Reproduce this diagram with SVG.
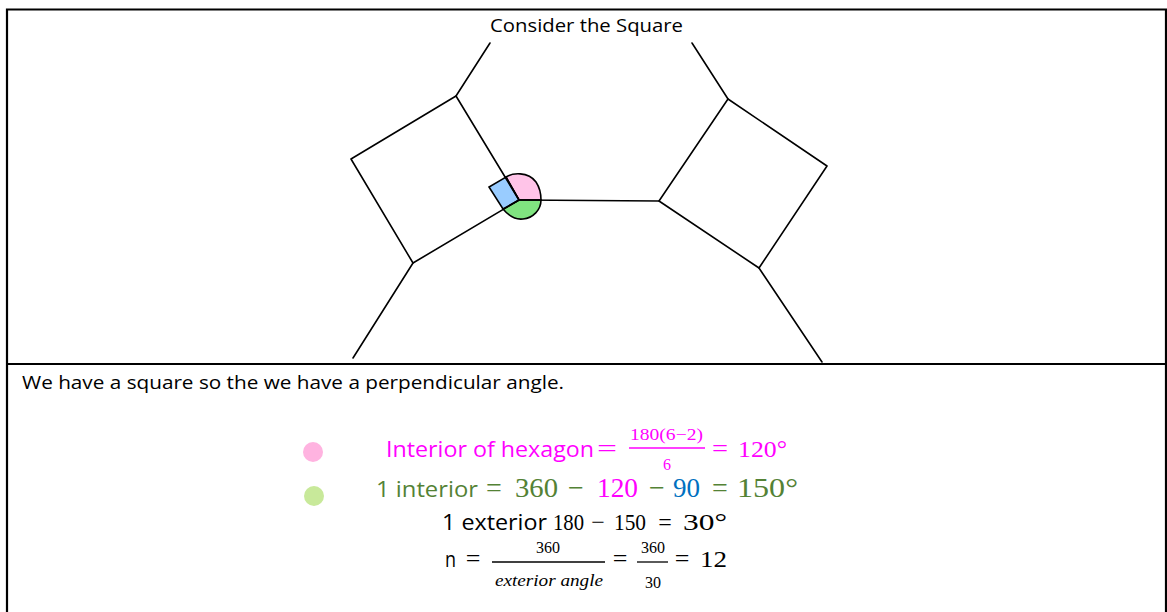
<svg xmlns="http://www.w3.org/2000/svg" width="1167" height="612" viewBox="0 0 1167 612">
<style>
.edge{stroke:#000;stroke-width:1.6;fill:none;stroke-linecap:round;stroke-linejoin:round}
.frame{stroke:#000;stroke-width:2.2;fill:none}
.sans{font-family:"Open Sans","Liberation Sans",Arial,sans-serif}
.serif{font-family:"Liberation Serif","Times New Roman",serif}
.mag{fill:#FF00FF}
.grn{fill:#548235}
.blu{fill:#0070C0}
.blk{fill:#000}
.mid{text-anchor:middle}
</style>
<rect width="1167" height="612" fill="#fff"/>
<g id="frame">
<path class="frame" d="M7,620 V9.5 H1166 V620"/>
<line class="frame" x1="7" y1="364" x2="1166" y2="364"/>
</g>
<text id="title" class="sans blk" x="490" y="32" font-size="19" textLength="193" lengthAdjust="spacingAndGlyphs">Consider the Square</text>
<g id="angle-marks">
<path d="M519,200 L506,177 C512,173 528,171 536,182 C540,188 541,194 541,200 Z" fill="#FFC4E8" stroke="#000" stroke-width="1.6"/>
<path d="M519,200 L503,209 C508,215 515,220 523,219 C533,218 541,210 541,200 Z" fill="#80E480" stroke="#000" stroke-width="1.6"/>
<path d="M519,200 L506,177 L489,187 L503,209 Z" fill="#99CCFF" stroke="#000" stroke-width="1.6"/>
</g>
<g id="left-square">
<path class="edge" d="M456,96 L351,159 L413,263 L519,200 Z"/>
</g>
<g id="right-square">
<path class="edge" d="M728,99 L827,166 L759,268 L659,201 Z"/>
</g>
<g id="connectors">
<line class="edge" x1="490" y1="43" x2="456" y2="96"/>
<line class="edge" x1="413" y1="263" x2="353" y2="358"/>
<line class="edge" x1="519" y1="200" x2="659" y2="201"/>
<line class="edge" x1="692" y1="43" x2="728" y2="99"/>
<line class="edge" x1="759" y1="268" x2="822" y2="362"/>
</g>
<text id="statement" class="sans blk" x="22" y="389" font-size="19" textLength="542" lengthAdjust="spacingAndGlyphs">We have a square so the we have a perpendicular angle.</text>
<g id="bullets">
<circle cx="313" cy="452" r="10" fill="#FFB3E0"/>
<circle cx="314" cy="496" r="10" fill="#C8E99A"/>
</g>
<g id="line1">
<text class="sans mag" x="386" y="457" font-size="22" textLength="208" lengthAdjust="spacingAndGlyphs">Interior of hexagon</text>
<text class="serif mag" x="597" y="457" font-size="26" textLength="20" lengthAdjust="spacingAndGlyphs">=</text>
<text class="serif mag" x="630" y="440" font-size="16" textLength="73" lengthAdjust="spacingAndGlyphs">180(6−2)</text>
<line x1="629" y1="448" x2="705" y2="448" stroke="#FF00FF" stroke-width="1.4"/>
<text class="serif mag mid" x="667" y="470" font-size="16">6</text>
<text class="serif mag" x="712" y="457" font-size="26" textLength="16" lengthAdjust="spacingAndGlyphs">=</text>
<text class="serif mag" x="738" y="457" font-size="24" textLength="49" lengthAdjust="spacingAndGlyphs">120°</text>
</g>
<g id="line2">
<text class="sans grn" x="376" y="497" font-size="22" textLength="102" lengthAdjust="spacingAndGlyphs">1 interior</text>
<text class="serif grn mid" x="494" y="497" font-size="28">=</text>
<text class="serif grn" x="515" y="497" font-size="27" textLength="43" lengthAdjust="spacingAndGlyphs">360</text>
<text class="serif grn mid" x="576" y="497" font-size="28">−</text>
<text class="serif mag" x="597" y="497" font-size="27" textLength="41" lengthAdjust="spacingAndGlyphs">120</text>
<text class="serif grn mid" x="657" y="497" font-size="28">−</text>
<text class="serif blu" x="673" y="497" font-size="27" textLength="27" lengthAdjust="spacingAndGlyphs">90</text>
<text class="serif grn mid" x="720" y="497" font-size="28">=</text>
<text class="serif grn" x="737" y="497" font-size="27" textLength="61" lengthAdjust="spacingAndGlyphs">150°</text>
</g>
<g id="line3">
<text class="sans blk" x="442" y="530" font-size="22" textLength="105" lengthAdjust="spacingAndGlyphs">1 exterior</text>
<text class="serif blk" x="553" y="530" font-size="23" textLength="31" lengthAdjust="spacingAndGlyphs">180</text>
<text class="serif blk mid" x="598" y="530" font-size="24">−</text>
<text class="serif blk" x="614" y="530" font-size="23" textLength="32" lengthAdjust="spacingAndGlyphs">150</text>
<text class="serif blk mid" x="665" y="530" font-size="24">=</text>
<text class="serif blk" x="683" y="530" font-size="23" textLength="44" lengthAdjust="spacingAndGlyphs">30°</text>
</g>
<g id="line4">
<text class="sans blk" x="445" y="567" font-size="22" textLength="11" lengthAdjust="spacingAndGlyphs">n</text>
<text class="serif blk mid" x="473" y="567" font-size="26">=</text>
<text class="serif blk mid" x="548" y="553" font-size="16">360</text>
<line x1="492" y1="562" x2="605" y2="562" stroke="#000" stroke-width="1.3"/>
<text class="serif blk" x="495" y="586" font-size="16" font-style="italic" textLength="108" lengthAdjust="spacingAndGlyphs">exterior angle</text>
<text class="serif blk mid" x="620" y="567" font-size="26">=</text>
<text class="serif blk mid" x="653" y="553" font-size="16">360</text>
<line x1="637" y1="562" x2="668" y2="562" stroke="#000" stroke-width="1.3"/>
<text class="serif blk mid" x="653" y="588" font-size="16">30</text>
<text class="serif blk mid" x="682" y="567" font-size="26">=</text>
<text class="serif blk" x="700" y="567" font-size="23" textLength="27" lengthAdjust="spacingAndGlyphs">12</text>
</g>
</svg>
